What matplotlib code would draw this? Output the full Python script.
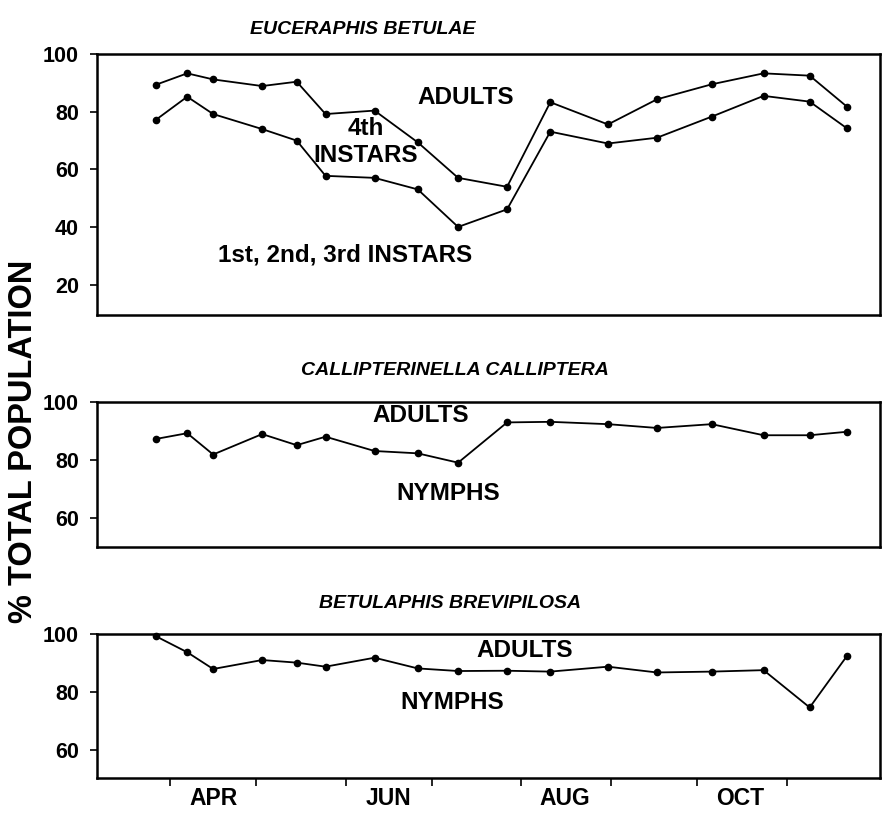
import matplotlib

matplotlib.use("Agg")
import matplotlib.pyplot as plt  # noqa: E402

plt.rcParams["font.family"] = ["Liberation Sans", "DejaVu Sans"]

# sampling dates as day of year (Mar-Nov)
sample_day = [86, 97, 106, 123, 135, 145, 162, 177, 191, 208, 223, 243, 260, 279, 297, 313, 326]

# Euceraphis betulae
eb_adult_4th = [89.3, 93.3, 91.2, 88.9, 90.4, 79.2, 80.4, 69.4, 57.1, 54.0, 83.3, 75.6, 84.3, 89.5, 93.3, 92.5, 81.7]
eb_123 = [77.1, 85.2, 79.2, 74.0, 70.0, 57.8, 57.1, 53.1, 40.1, 46.2, 73.1, 69.0, 71.0, 78.3, 85.5, 83.5, 74.2]

# Callipterinella calliptera
cc_adult = [87.2, 89.2, 81.9, 88.9, 85.1, 88.0, 83.1, 82.3, 79.1, 92.9, 93.1, 92.3, 91.0, 92.3, 88.5, 88.5, 89.7]

# Betulaphis brevipilosa
bb_adult = [99.4, 93.8, 88.0, 91.1, 90.2, 88.8, 91.9, 88.2, 87.3, 87.4, 87.1, 88.8, 86.8, 87.1, 87.6, 74.7, 92.6]

month_start = [91, 121, 152, 182, 213, 244, 274, 305]
month_mid = [106, 167, 228, 289]
month_names = ["APR", "JUN", "AUG", "OCT"]

W, H = 883, 813
fig = plt.figure(figsize=(W / 100, H / 100), dpi=100)


def box(top, bottom, left=97, right=880):
    return [left / W, 1 - bottom / H, (right - left) / W, (bottom - top) / H]


ax1 = fig.add_axes(box(54, 315))
ax2 = fig.add_axes(box(401.7, 546.7))
ax3 = fig.add_axes(box(634.3, 778.3))

line_kw = dict(color="black", linewidth=1.3, marker="o", markersize=4.5, clip_on=False)
ax1.plot(sample_day, eb_adult_4th, **line_kw)
ax1.plot(sample_day, eb_123, **line_kw)
ax2.plot(sample_day, cc_adult, **line_kw)
ax3.plot(sample_day, bb_adult, **line_kw)

ax1.set_ylim(9.6, 100)
ax1.set_yticks([20, 40, 60, 80, 100])
ax2.set_ylim(50.3, 100)
ax2.set_yticks([60, 80, 100])
ax3.set_ylim(50.2, 100)
ax3.set_yticks([60, 80, 100])

for ax in (ax1, ax2, ax3):
    ax.set_xlim(65.7, 337.4)
    for s in ax.spines.values():
        s.set_linewidth(1.8)
    ax.tick_params(axis="y", direction="out", length=5, width=1.2, pad=8, labelsize=15.5)
    for lab in ax.get_yticklabels():
        lab.set_fontweight("bold")

for ax in (ax1, ax2):
    ax.set_xticks([])

ax3.set_xticks(month_start)
ax3.set_xticklabels([])
ax3.set_xticks(month_mid, minor=True)
ax3.set_xticklabels(month_names, minor=True, fontsize=16.5, fontweight="bold")
ax3.tick_params(axis="x", which="major", direction="out", length=6, width=1.2)
ax3.tick_params(axis="x", which="minor", length=0, pad=6)

# panel titles
title_kw = dict(fontsize=14, fontweight="bold", fontstyle="italic", ha="center", va="center")
fig.text(363 / W, 1 - 30 / H, "EUCERAPHIS BETULAE", **title_kw)
fig.text(455 / W, 1 - 370 / H, "CALLIPTERINELLA CALLIPTERA", **title_kw)
fig.text(450 / W, 1 - 603 / H, "BETULAPHIS BREVIPILOSA", **title_kw)

# in-panel labels
lab_kw = dict(fontsize=17.5, fontweight="bold", ha="center", va="center")
fig.text(466 / W, 1 - 98 / H, "ADULTS", **lab_kw)
fig.text(366 / W, 1 - 142 / H, "4th\nINSTARS", linespacing=1.25, **lab_kw)
fig.text(345 / W, 1 - 255 / H, "1st, 2nd, 3rd INSTARS", **lab_kw)
fig.text(421 / W, 1 - 416 / H, "ADULTS", **lab_kw)
fig.text(448 / W, 1 - 493 / H, "NYMPHS", **lab_kw)
fig.text(525 / W, 1 - 650 / H, "ADULTS", **lab_kw)
fig.text(452 / W, 1 - 702 / H, "NYMPHS", **lab_kw)

fig.text(24 / W, 1 - 441 / H, "% TOTAL POPULATION", rotation=90, ha="center", va="center",
         fontsize=23.5, fontweight="bold")

fig.savefig("out.png", dpi=100)
